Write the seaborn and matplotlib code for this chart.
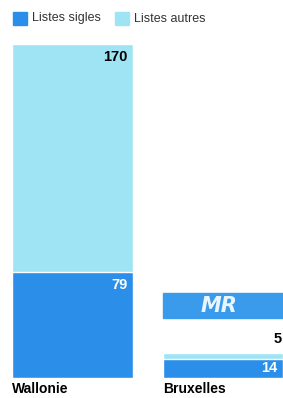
import matplotlib
matplotlib.use('Agg')
from matplotlib import pyplot as plt
from matplotlib.patches import Rectangle
import pandas as pd
import seaborn as sns

regions = ['Wallonie', 'Bruxelles']
sigles = [79, 14]
autres = [170, 5]
legend_labels = ['Listes sigles', 'Listes autres']

dark = '#2b8fea'
light = '#9ee4f4'

sns.set_style('white')
plt.rcParams['font.family'] = ['Liberation Sans', 'DejaVu Sans']

df = pd.DataFrame({'region': regions, 'sigles': sigles, 'autres': autres})
df['total'] = df['sigles'] + df['autres']

fig = plt.figure(figsize=(2.83, 3.98), dpi=100)
ax = fig.add_axes([0, 20 / 398, 1, 334 / 398])

sns.barplot(data=df, x='region', y='total', color=light, width=0.8,
            saturation=1, ax=ax)
sns.barplot(data=df, x='region', y='sigles', color=dark, width=0.8,
            saturation=1, ax=ax)

ax.set_xlim(-0.482, 1.399)
ax.set_ylim(0, 249)
ax.axis('off')

# valeurs
for i, (s, a, t) in enumerate(zip(df['sigles'], df['autres'], df['total'])):
    right = i + 0.4
    if a > 20:
        ax.annotate(str(a), (right, t), xytext=(-4, -4), textcoords='offset points',
                    ha='right', va='top', fontsize=10.5, fontweight='bold', color='black')
    else:
        ax.annotate(str(a), (right, t), xytext=(-1, 5), textcoords='offset points',
                    ha='right', va='bottom', fontsize=10.5, fontweight='bold', color='black',
                    annotation_clip=False)
    ax.annotate(str(s), (right, s), xytext=(-4, -4 if s > 20 else -1),
                textcoords='offset points', ha='right', va='top',
                fontsize=10.5, fontweight='bold', color='white')

# étiquettes des régions
for i, r in enumerate(regions):
    ax.annotate(r, (i - 0.4, 0), xytext=(0, -3), textcoords='offset points',
                ha='left', va='top', fontsize=10, fontweight='bold',
                color='black', annotation_clip=False)

# logo MR
ax.add_patch(Rectangle((163 / 283, (398 - 318 - 20) / 334), 120 / 283, 25 / 334,
                       transform=ax.transAxes, color='#3a9bec', clip_on=False))
ax.text((163 + 56) / 283, (398 - 305.5 - 20) / 334, 'MR', transform=ax.transAxes,
        ha='center', va='center', fontsize=15, fontweight='bold', style='italic',
        color='#e8f6ff', family='DejaVu Sans')

# légende
for k, (lab, col) in enumerate(zip(legend_labels, [dark, light])):
    x0 = 13 + k * 102
    fig.patches.append(Rectangle((x0 / 283, (398 - 25) / 398), 14 / 283, 13 / 398,
                                 transform=fig.transFigure, color=col))
    fig.text((x0 + 19) / 283, (398 - 18.5) / 398, lab, ha='left', va='center',
             fontsize=9, color='#333333')

fig.savefig('out.png', dpi=100)
